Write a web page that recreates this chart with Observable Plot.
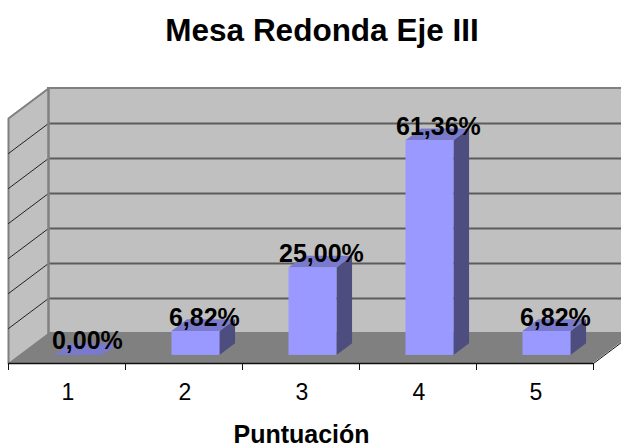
<!DOCTYPE html>
<html>
<head>
<meta charset="utf-8">
<script src="https://cdn.jsdelivr.net/npm/d3@7"></script>
<script src="https://cdn.jsdelivr.net/npm/@observablehq/plot@0.6"></script>
<style>html,body{margin:0;padding:0;background:#fff;overflow:hidden}</style>
</head>
<body>
<div id="chart"></div>
<script>
const categories = ["1", "2", "3", "4", "5"];
const values = [0, 6.82, 25, 61.36, 6.82];
const valueLabels = ["0,00%", "6,82%", "25,00%", "61,36%", "6,82%"];
const gridValues = [10, 20, 30, 40, 50, 60];
const axisMax = 70;
const chartTitle = "Mesa Redonda Eje III";
const axisTitle = "Puntuación";

// Oblique projection: depth 0 (front) to 1 (back wall), in data units
const depthX = 40 / 117, depthY = 30 / 3.5;
const px = (x, d) => x + d * depthX;
const py = (v, d) => v + d * depthY;
const barFront = 0.27, barBack = 0.66, barHalf = 0.205, barShift = 0.01;

const colors = {wall: "#c0c0c0", floor: "#808080", edge: "#808080", grid: "#5c5c5c",
                front: "#9999ff", top: "#7a7acc", side: "#4d4d80"};

const bars = categories.map((c, i) => ({
  c, value: values[i], label: valueLabels[i],
  x1: i + 0.5 + barShift - barHalf, x2: i + 0.5 + barShift + barHalf, mid: i + 0.5
}));

const sideFaces = bars.flatMap(b => [barFront, barBack].map(d => ({
  c: b.c, x: px(b.x2, d), y1: py(0, d), y2: py(b.value, d)
})));
const topFaces = bars.flatMap(b => [barFront, barBack].map(d => ({
  c: b.c, y: py(b.value, d), x1: px(b.x1, d), x2: px(b.x2, d)
})));

const wallEnds = [0, 1];
const leftWall = wallEnds.map(d => ({x: px(0, d), y1: py(0, d), y2: py(axisMax, d)}));
const floor = wallEnds.map(d => ({y: py(0, d), x1: px(0, d), x2: px(5, d)}));
const slantGrid = gridValues.flatMap(v => wallEnds.map(d => ({v, x: px(0, d), y: py(v, d)})));

const plot = Plot.plot({
  width: 621, height: 448,
  marginLeft: 8, marginRight: 28, marginTop: 0, marginBottom: 85,
  style: {background: "#fff", fontFamily: "'Liberation Sans', Arial, sans-serif"},
  x: {type: "linear", domain: [0, 5], range: [8, 593]},
  y: {type: "linear", domain: [0, axisMax], range: [363, 118], axis: null},
  marks: [
    // back wall
    Plot.rect([0], {x1: px(0, 1), x2: px(5, 1), y1: py(0, 1), y2: py(axisMax, 1),
      fill: colors.wall, stroke: colors.edge, strokeWidth: 2}),
    // left wall
    Plot.areaY(leftWall, {x: "x", y1: "y1", y2: "y2", fill: colors.wall}),
    Plot.line([[px(0, 0), py(0, 0)], [px(0, 0), py(axisMax, 0)], [px(0, 1), py(axisMax, 1)]],
      {stroke: colors.edge, strokeWidth: 2}),
    // floor
    Plot.areaX(floor, {y: "y", x1: "x1", x2: "x2", fill: colors.floor}),
    // gridlines
    Plot.ruleY(gridValues, {y: v => py(v, 1), x1: px(0, 1), x2: px(5, 1), stroke: colors.grid, strokeWidth: 2}),
    Plot.line(slantGrid, {x: "x", y: "y", z: "v", stroke: "#222", strokeWidth: 1}),
    Plot.ruleX([px(0, 1)], {y1: py(0, 1), y2: py(axisMax, 1), stroke: colors.edge, strokeWidth: 2.5}),
    // bars
    Plot.areaY(sideFaces, {x: "x", y1: "y1", y2: "y2", z: "c", fill: colors.side}),
    Plot.areaX(topFaces, {y: "y", x1: "x1", x2: "x2", z: "c", fill: colors.top}),
    Plot.rect(bars.filter(b => b.value > 0), {
      x1: b => px(b.x1, barFront), x2: b => px(b.x2, barFront),
      y1: py(0, barFront), y2: b => py(b.value, barFront), fill: colors.front
    }),
    // axis
    Plot.line([[px(5, 0), py(0, 0)], [px(5, 0.75), py(0, 0.75)]], {stroke: "#111", strokeWidth: 1}),
    Plot.ruleY([0], {x1: 0, x2: 5, stroke: "#111", strokeWidth: 1.5}),
    Plot.axisX({ticks: d3.range(0, 6), tickFormat: () => "", tickSize: 7, stroke: "#111", strokeWidth: 1}),
    Plot.axisX({ticks: categories.map((c, i) => i + 0.5), tickFormat: d => categories[Math.floor(d)],
      tickSize: 0, tickPadding: 20, dx: 1, fontSize: 23, fill: "#000", label: null}),
    // value labels
    Plot.text(bars, {
      x: b => px(b.mid, 0.46), y: b => py(b.value, barFront),
      text: "label", dy: -14, dx: 2, fontSize: 25, fontWeight: "bold", fill: "#000"
    }),
    // titles
    Plot.text([chartTitle], {frameAnchor: "top-left", dx: 321.5 - 8, dy: 30, textAnchor: "middle",
      lineAnchor: "middle", fontSize: 31.5, fontWeight: "bold", fill: "#000"}),
    Plot.text([axisTitle], {frameAnchor: "bottom-left", dx: 301 - 8, dy: 71, textAnchor: "middle",
      lineAnchor: "middle", fontSize: 25, fontWeight: "bold", fill: "#000"})
  ]
});
document.getElementById("chart").append(plot);
</script>
</body>
</html>
